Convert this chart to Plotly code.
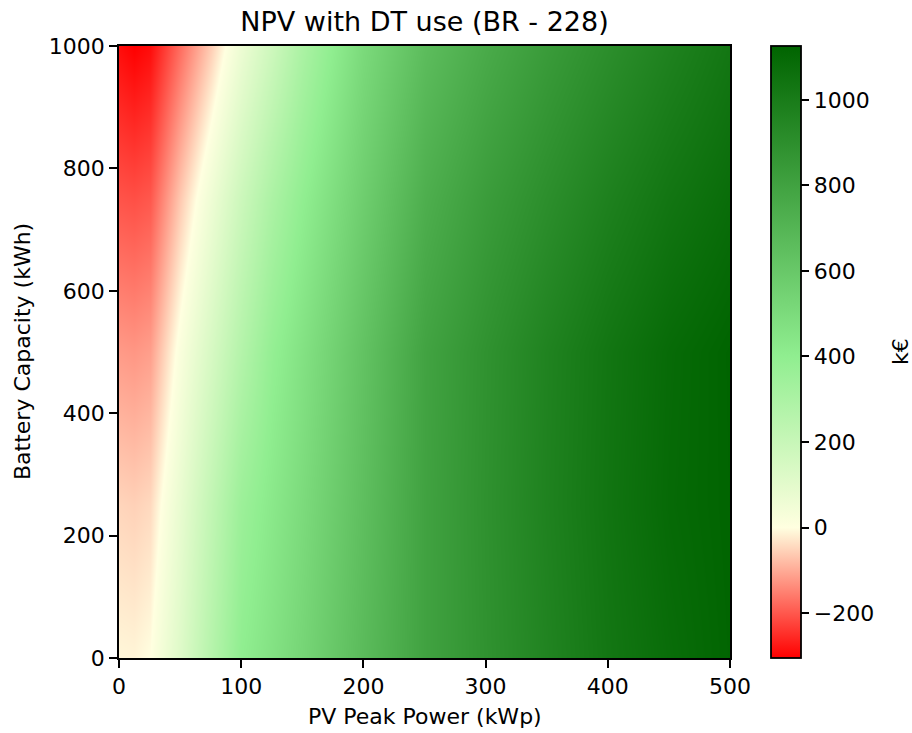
import plotly.graph_objects as go

# PV peak power (kWp) grid columns
x_pv = [0, 12.5, 25, 50, 75, 100, 125, 150, 200, 250, 300, 350, 400, 450, 500]
# Battery capacity (kWh) grid rows
y_bat = [0, 250, 500, 750, 1000]

# NPV (k€) per battery-capacity row
npv_b0 = [-10, -12, 0, 120, 265, 400, 465, 530, 670, 800, 885, 960, 1030, 1080, 1120]
npv_b250 = [-50, -55, -45, 80, 220, 355, 430, 500, 650, 800, 890, 970, 1040, 1095, 1124]
npv_b500 = [-120, -125, -115, 20, 145, 270, 385, 465, 630, 795, 885, 965, 1035, 1090, 1126]
npv_b750 = [-205, -210, -200, -65, 60, 185, 300, 395, 570, 735, 830, 905, 975, 1035, 1080]
npv_b1000 = [-290, -305, -290, -175, -60, 65, 180, 300, 505, 660, 755, 835, 905, 970, 1030]

z_min, z_max = -305, 1126
cbar_ticks = [-200, 0, 200, 400, 600, 800, 1000]
x_ticks = [0, 100, 200, 300, 400, 500]
y_ticks = [0, 200, 400, 600, 800, 1000]

z = [npv_b0, npv_b250, npv_b500, npv_b750, npv_b1000]

span = z_max - z_min
colorscale = [
    [0.0, "#ff0000"],
    [(0 - z_min) / span, "#ffffe0"],
    [(400 - z_min) / span, "#90ee90"],
    [1.0, "#006400"],
]

FONT = "DejaVu Sans"
W, H = 912, 733
L, R, T, B = 119, 182, 46, 75
PW, PH = W - L - R, H - T - B

fig = go.Figure(
    go.Heatmap(
        x=x_pv,
        y=y_bat,
        z=z,
        zsmooth="best",
        zmin=z_min,
        zmax=z_max,
        colorscale=colorscale,
        colorbar=dict(
            thickness=30,
            thicknessmode="pixels",
            len=1,
            lenmode="fraction",
            x=(771 - L) / PW,
            xanchor="left",
            xref="paper",
            y=0.5,
            yanchor="middle",
            xpad=0,
            ypad=0,
            outlinecolor="black",
            outlinewidth=1.8,
            ticks="outside",
            ticklen=8,
            tickwidth=1.8,
            tickcolor="black",
            tickvals=cbar_ticks,
            tickfont=dict(size=22, family=FONT, color="black"),
        ),
    )
)

axis_common = dict(
    showline=True,
    mirror=True,
    linecolor="black",
    linewidth=1.8,
    ticks="outside",
    ticklen=8,
    tickwidth=1.8,
    tickcolor="black",
    showgrid=False,
    zeroline=False,
    automargin=False,
    tickfont=dict(size=22, family=FONT, color="black"),
)

fig.update_xaxes(range=[0, 500], tickvals=x_ticks, **axis_common)
fig.update_yaxes(range=[0, 1000], tickvals=y_ticks, **axis_common)

# axis / colorbar titles
fig.add_annotation(
    text="PV Peak Power (kWp)",
    xref="paper", yref="paper",
    x=0.5, y=-(716 - (T + PH)) / PH,
    xanchor="center", yanchor="middle",
    showarrow=False,
    font=dict(size=22, family=FONT, color="black"),
)
fig.add_annotation(
    text="Battery Capacity (kWh)",
    xref="paper", yref="paper",
    x=-(L - 22) / PW, y=0.5,
    xanchor="center", yanchor="middle",
    textangle=-90,
    showarrow=False,
    font=dict(size=22, family=FONT, color="black"),
)
fig.add_annotation(
    text="k€",
    xref="paper", yref="paper",
    x=(900 - L) / PW, y=0.5,
    xanchor="center", yanchor="middle",
    textangle=-90,
    showarrow=False,
    font=dict(size=22, family=FONT, color="black"),
)

fig.update_layout(
    width=W,
    height=H,
    margin=dict(l=L, r=R, t=T, b=B, pad=0),
    paper_bgcolor="white",
    plot_bgcolor="white",
    font=dict(family=FONT, color="black"),
    title=dict(
        text="NPV with DT use (BR - 228)",
        font=dict(size=27, family=FONT, color="black"),
        x=0.5,
        xref="paper",
        xanchor="center",
        y=1 - 22 / H,
        yref="container",
        yanchor="middle",
    ),
)

fig.write_html("out.html")
